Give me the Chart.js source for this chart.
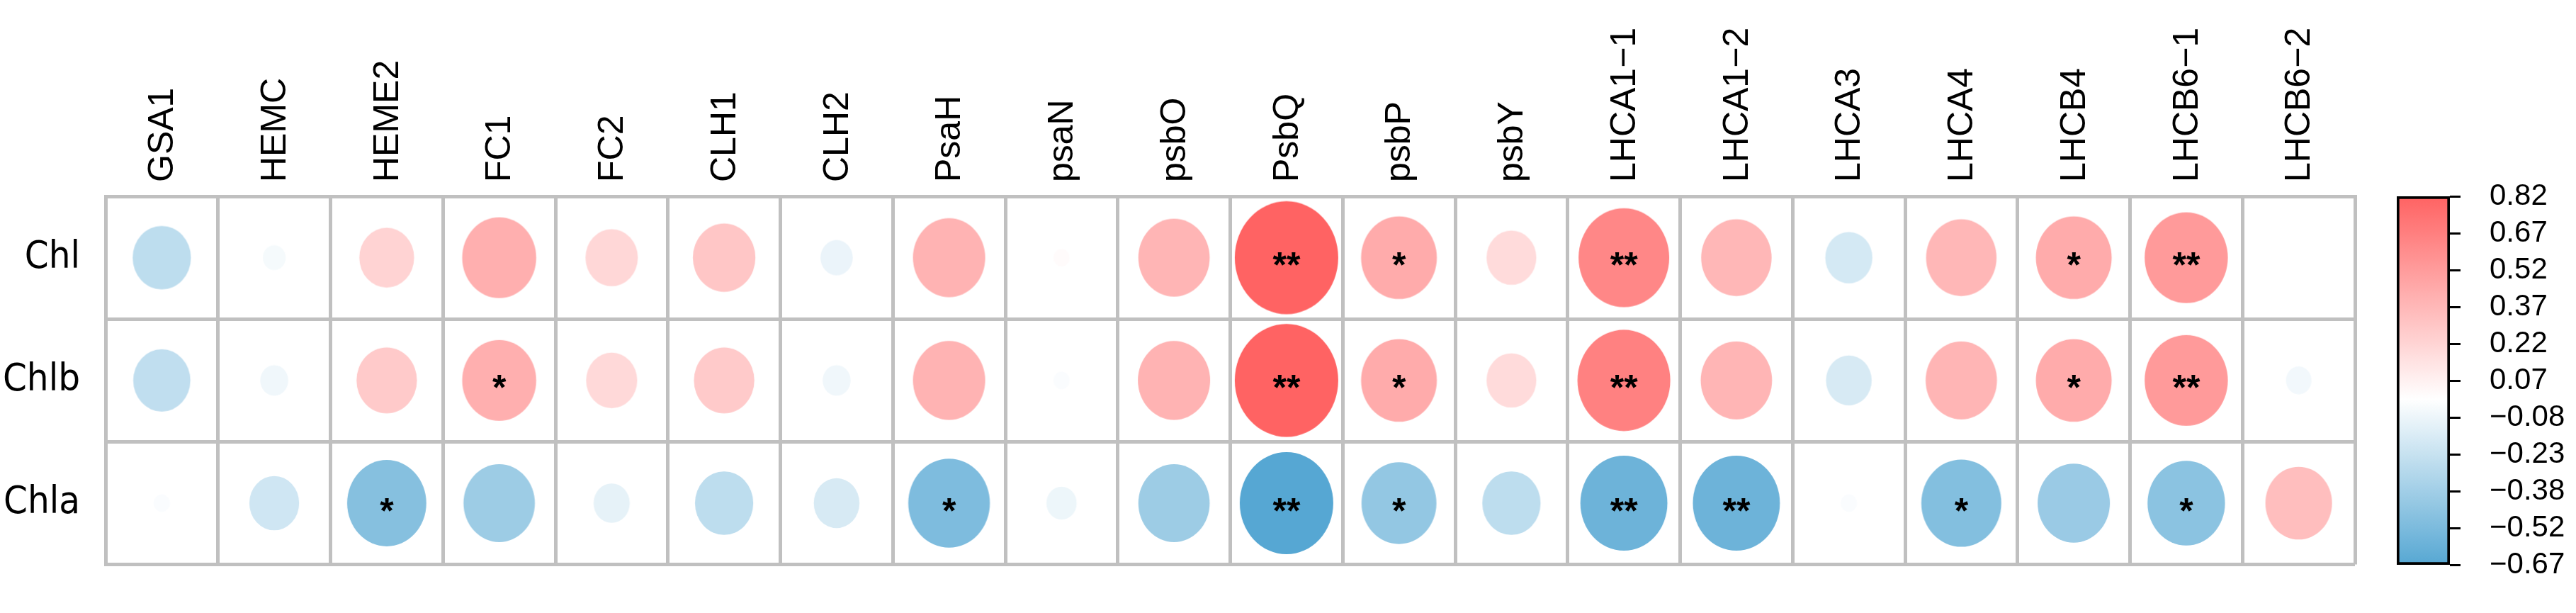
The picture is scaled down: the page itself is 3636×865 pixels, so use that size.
<!DOCTYPE html>
<html lang="en">
<head>
    <meta charset="UTF-8">
    <title>Correlation plot</title>
    <script src="https://cdn.jsdelivr.net/npm/chart.js"></script>
    <style>
        body { margin: 0; background: #fff; }
        .wrap { position: relative; width: 3636px; height: 865px; }
        #main { position: absolute; left: 0; top: 0; width: 3636px; height: 865px; }
        #cbar { position: absolute; left: 3370px; top: 0; width: 266px; height: 865px; }
    </style>
</head>
<body>

<div class="wrap">
    <div id="main"><canvas id="corr"></canvas></div>
    <div id="cbar"><canvas id="legend"></canvas></div>
</div>

<script>
    const genes = ['GSA1', 'HEMC', 'HEME2', 'FC1', 'FC2', 'CLH1', 'CLH2', 'PsaH', 'psaN', 'psbO',
        'PsbQ', 'psbP', 'psbY', 'LHCA1−1', 'LHCA1−2', 'LHCA3', 'LHCA4', 'LHCB4', 'LHCB6−1', 'LHCB6−2'];
    const traits = ['Chl', 'Chlb', 'Chla'];

    // correlation values
    const chl  = [-0.26, -0.04, 0.23, 0.42, 0.21, 0.30, -0.08, 0.40, 0.02, 0.39,
        0.82, 0.44, 0.19, 0.63, 0.38, -0.17, 0.38, 0.44, 0.53, 0.00];
    const chlb = [-0.25, -0.06, 0.28, 0.42, 0.20, 0.28, -0.06, 0.40, -0.02, 0.40,
        0.82, 0.44, 0.19, 0.66, 0.39, -0.16, 0.39, 0.44, 0.53, -0.05];
    const chla = [-0.02, -0.19, -0.48, -0.39, -0.10, -0.26, -0.16, -0.51, -0.07, -0.39,
        -0.67, -0.43, -0.26, -0.58, -0.58, -0.02, -0.49, -0.40, -0.46, 0.34];

    // significance marks
    const sigChl  = ['', '', '', '', '', '', '', '', '', '', '**', '*', '', '**', '', '', '', '*', '**', ''];
    const sigChlb = ['', '', '', '*', '', '', '', '', '', '', '**', '*', '', '**', '', '', '', '*', '**', ''];
    const sigChla = ['', '', '*', '', '', '', '', '*', '', '', '**', '*', '', '**', '**', '', '*', '', '*', ''];

    const cbMin = -0.67;
    const cbMax = 0.82;
    const cbLabels = ['−0.67', '−0.52', '−0.38', '−0.23', '−0.08', '0.07', '0.22', '0.37', '0.52', '0.67', '0.82'];

    const red = [255, 99, 99];
    const blue = [86, 167, 211];
    const gridColor = '#c0c0c0';
    const font = "'Liberation Sans', Arial, sans-serif";
    const narrow = "'Liberation Sans Narrow', 'Arial Narrow', 'DejaVu Sans Condensed', sans-serif";

    function colorFor(v) {
        const end = v >= 0 ? red : blue;
        const t = Math.min(1, Math.abs(v) / (v >= 0 ? cbMax : -cbMin));
        const c = end.map(e => Math.round(255 + (e - 255) * t));
        return `rgb(${c[0]}, ${c[1]}, ${c[2]})`;
    }

    const maxAbs = Math.max(...chl.concat(chlb, chla).map(Math.abs));

    function ellipse(ctx) {
        const chart = ctx.chart;
        const v = ctx.raw.v;
        const cw = chart.scales.x.width / genes.length;
        const chh = chart.scales.y.height / traits.length;
        const f = 0.92 * Math.sqrt(Math.abs(v) / maxAbs);
        const rx = f * cw / 2, ry = f * chh / 2;
        const c = document.createElement('canvas');
        c.width = Math.ceil(rx) * 2 + 2;
        c.height = Math.ceil(ry) * 2 + 2;
        const g = c.getContext('2d');
        g.fillStyle = colorFor(v);
        g.beginPath();
        g.ellipse(c.width / 2, c.height / 2, rx, ry, 0, 0, Math.PI * 2);
        g.fill();
        return c;
    }

    function rowData(trait, values) {
        return values.map((v, i) => ({ x: genes[i], y: trait, v: v }));
    }

    const starPlugin = {
        id: 'stars',
        afterDatasetsDraw(chart) {
            const ctx = chart.ctx;
            const size = 50;
            ctx.save();
            ctx.font = `bold ${size}px ${font}`;
            ctx.fillStyle = '#000';
            ctx.textAlign = 'center';
            ctx.textBaseline = 'alphabetic';
            chart.data.datasets.forEach((ds, di) => {
                chart.getDatasetMeta(di).data.forEach((pt, i) => {
                    if (ds.sig[i]) ctx.fillText(ds.sig[i], pt.x, pt.y + size * 0.55);
                });
            });
            ctx.restore();
        }
    };

    const sigs = [sigChl, sigChlb, sigChla];
    const rowsVals = [chl, chlb, chla];

    new Chart(document.getElementById('corr'), {
        type: 'scatter',
        data: {
            datasets: traits.map((t, k) => ({
                label: t,
                data: rowData(t, rowsVals[k]),
                sig: sigs[k],
                pointRadius: 10,
                pointHoverRadius: 10,
                pointStyle: ellipse
            }))
        },
        options: {
            responsive: true,
            maintainAspectRatio: false,
            animation: false,
            events: [],
            layout: { padding: { top: 0, left: 0, right: 312, bottom: 67 } },
            plugins: { legend: { display: false }, tooltip: { enabled: false } },
            scales: {
                x: {
                    type: 'category',
                    labels: genes,
                    position: 'top',
                    offset: true,
                    grid: { offset: true, color: gridColor, lineWidth: 5, drawTicks: false },
                    border: { color: gridColor, width: 5 },
                    ticks: {
                        font: { family: font, size: 50 },
                        color: '#000',
                        minRotation: 90,
                        maxRotation: 90,
                        autoSkip: false,
                        labelOffset: 62,
                        padding: 20
                    },
                    afterFit(s) { s.height = 277; }
                },
                y: {
                    type: 'category',
                    labels: traits,
                    offset: true,
                    grid: { offset: true, color: gridColor, lineWidth: 5, drawTicks: false },
                    border: { color: gridColor, width: 5 },
                    ticks: { font: { family: narrow, size: 54 }, color: '#000', padding: 36 },
                    afterFit(s) { s.width = 149; }
                }
            }
        },
        plugins: [starPlugin]
    });

    // colour key
    new Chart(document.getElementById('legend'), {
        type: 'bar',
        data: {
            labels: [''],
            datasets: [{
                data: [[cbMin, cbMax]],
                barPercentage: 1,
                categoryPercentage: 1,
                borderWidth: 4,
                borderColor: '#000',
                borderSkipped: false,
                backgroundColor(c) {
                    const ch = c.chart;
                    if (!ch.chartArea) return null;
                    const ys = ch.scales.y;
                    const g = ch.ctx.createLinearGradient(0, ys.getPixelForValue(cbMin), 0, ys.getPixelForValue(cbMax));
                    const n = 30;
                    for (let k = 0; k <= n; k++) {
                        const v = cbMin + k * (cbMax - cbMin) / n;
                        g.addColorStop(k / n, colorFor(v));
                    }
                    g.addColorStop(-cbMin / (cbMax - cbMin), '#ffffff');
                    return g;
                }
            }]
        },
        options: {
            responsive: true,
            maintainAspectRatio: false,
            animation: false,
            events: [],
            layout: { padding: { top: 277, left: 13, right: 0, bottom: 68 } },
            plugins: { legend: { display: false }, tooltip: { enabled: false } },
            scales: {
                x: { display: false },
                y: {
                    position: 'right',
                    min: cbMin,
                    max: cbMax,
                    grid: { drawOnChartArea: false, tickLength: 15, tickWidth: 3, tickColor: '#000' },
                    border: { display: false },
                    afterBuildTicks(s) {
                        s.ticks = cbLabels.map((_, i) => ({ value: cbMin + i * (cbMax - cbMin) / (cbLabels.length - 1) }));
                    },
                    ticks: {
                        autoSkip: false,
                        font: { family: font, size: 42 },
                        color: '#000',
                        padding: 41,
                        callback: (v, i) => cbLabels[i]
                    },
                    afterFit(s) { s.width = 178; }
                }
            }
        }
    });
</script>

</body>
</html>
